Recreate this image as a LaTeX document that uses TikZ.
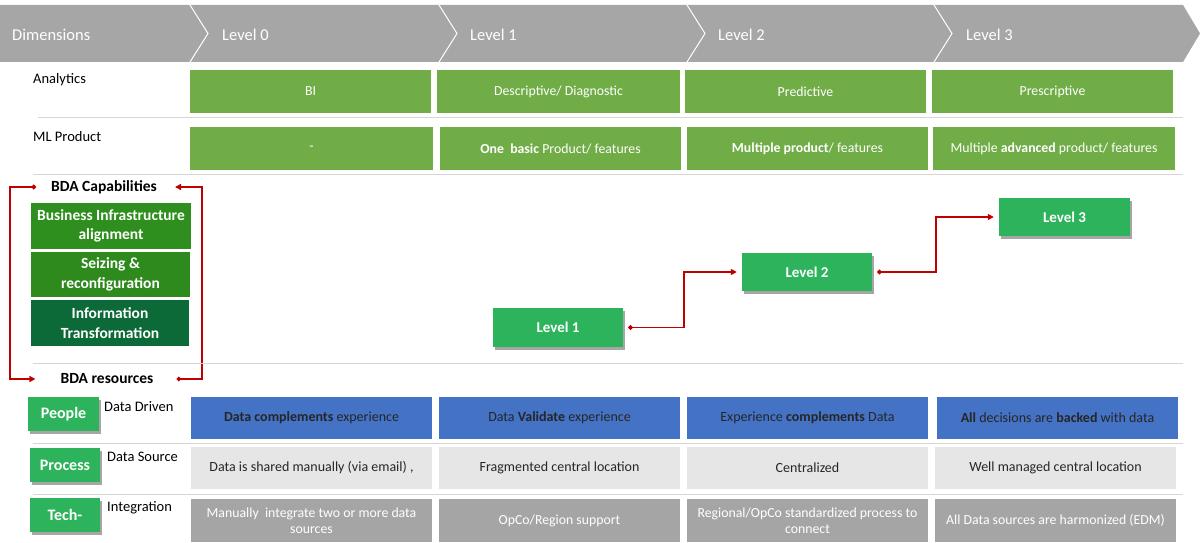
\documentclass[tikz,border=0pt]{standalone}
\usepackage{fontspec}
\setmainfont{Carlito}
\usetikzlibrary{arrows.meta,shadows}

\definecolor{bandgrey}{HTML}{A6A6A6}
\definecolor{cellgreen}{HTML}{70AD47}
\definecolor{capgreenA}{HTML}{2F8F1E}
\definecolor{capgreenB}{HTML}{2E8A1D}
\definecolor{capgreenC}{HTML}{0B6A37}
\definecolor{stepgreen}{HTML}{2DB35B}
\definecolor{cellblue}{HTML}{4472C4}
\definecolor{paleGrey}{HTML}{E7E6E6}
\definecolor{midGrey}{HTML}{A5A5A5}
\definecolor{ruleGrey}{HTML}{D6D6D6}
\definecolor{linkRed}{HTML}{C00000}
\definecolor{inkDark}{HTML}{262626}

% cell given by its corners: name, style, x1, y1, x2, y2, text
\newcommand{\gridcell}[7]{%
  \node[#2, minimum width={#5-#3}, minimum height={#6-#4}] (#1)
    at ({(#3+#5)/2},{(#4+#6)/2}) {#7};}

\tikzset{
  hdrtext/.style={anchor=west, inner sep=0pt, text=white, font=\fontsize{16.5}{19}\selectfont},
  rowlabel/.style={anchor=west, inner sep=0pt, text=black, font=\fontsize{14.5}{17}\selectfont},
  greencell/.style={fill=cellgreen, inner sep=0pt, text=white, font=\fontsize{13.8}{16}\selectfont},
  bluecell/.style={fill=cellblue, inner sep=0pt, text=inkDark, font=\fontsize{14}{16}\selectfont},
  palecell/.style={fill=paleGrey, inner sep=0pt, text=inkDark, font=\fontsize{14}{16}\selectfont},
  greycell/.style={fill=midGrey, inner sep=0pt, align=center, text=white, font=\fontsize{13.8}{16}\selectfont},
  capbox/.style={inner sep=0pt, align=center, text=white, font=\bfseries\fontsize{15.5}{19.5}\selectfont},
  levelbox/.style={fill=stepgreen, inner sep=0pt, text=white, font=\bfseries\fontsize{15}{18}\selectfont,
    drop shadow={shadow xshift=2pt, shadow yshift=-3pt, opacity=0.35, fill=black}},
  resbox/.style={fill=stepgreen, inner sep=0pt, text=white, font=\bfseries\fontsize{16}{19}\selectfont,
    drop shadow={shadow xshift=2pt, shadow yshift=-3pt, opacity=0.35, fill=black}},
  bdalabel/.style={inner sep=0pt, text=black, font=\bfseries\fontsize{15.5}{18}\selectfont},
  redlink/.style={draw=linkRed, line width=1.5pt,
    {Circle[length=4.5pt]}-{Triangle[length=6pt,width=6pt]}},
  rowrule/.style={draw=ruleGrey, line width=1pt}
}

\begin{document}
\begin{tikzpicture}[x=1pt,y=-1pt]
\useasboundingbox (0,0) rectangle (1202,543);

% header band with chevron separators
\fill[bandgrey] (0,5) -- (1183,5) -- (1200,33.5) -- (1183,62) -- (0,62) -- cycle;
\foreach \sx in {190,439,687,934}
  \draw[white, line width=1pt] (\sx,5) -- (\sx+18,33.5) -- (\sx,62);
\node[hdrtext] (hdim) at (12,35) {Dimensions};
\node[hdrtext] (hl0) at (222,35) {Level 0};
\node[hdrtext] (hl1) at (470,35) {Level 1};
\node[hdrtext] (hl2) at (718,35) {Level 2};
\node[hdrtext] (hl3) at (966,35) {Level 3};

% analytics row
\node[rowlabel] (lanalytics) at (33,80) {Analytics};
\gridcell{a0}{greencell}{190}{70}{431}{113}{BI}
\gridcell{a1}{greencell}{437}{70}{680}{113}{Descriptive/ Diagnostic}
\gridcell{a2}{greencell}{685}{70}{926}{113}{Predictive}
\gridcell{a3}{greencell}{932}{70}{1173}{113}{Prescriptive}
\draw[rowrule] (38,117) -- (1183,117);

% ML product row
\node[rowlabel] (lml) at (33,137) {ML Product};
\gridcell{m0}{greencell}{190}{127}{433}{170}{-}
\gridcell{m1}{greencell}{440}{127}{681}{170}{\textbf{One\ \ basic} Product/ features}
\gridcell{m2}{greencell}{687}{127}{928}{170}{\textbf{Multiple product}/ features}
\gridcell{m3}{greencell}{933}{127}{1175}{170}{Multiple \textbf{advanced} product/ features}
\draw[rowrule] (33,174) -- (1183,174);

% BDA capabilities
\node[bdalabel] (captxt) at (104,187) {BDA Capabilities};
\gridcell{cap1}{capbox, fill=capgreenA}{31}{203}{191}{249}{Business Infrastructure\\alignment}
\gridcell{cap2}{capbox, fill=capgreenB}{31}{252}{190}{297}{Seizing \&\\reconfiguration}
\gridcell{cap3}{capbox, fill=capgreenC}{31}{300}{189}{346}{Information\\Transformation}
\node[bdalabel] (restxt) at (107,379) {BDA resources};
\draw[redlink] ([xshift=-15pt]captxt.west) -| (10,283) |- ([xshift=-25pt]restxt.west);
\draw[redlink] ([xshift=23pt]restxt.east) -| (202,283) |- ([xshift=18pt]captxt.east);

% level steps
\gridcell{l1}{levelbox}{493}{308}{623}{347}{Level 1}
\gridcell{l2}{levelbox}{742}{253}{872}{291}{Level 2}
\gridcell{l3}{levelbox}{999}{198}{1130}{236}{Level 3}
\draw[redlink] ([xshift=5pt]l1.east) -- ++(56,0) |- ([xshift=-5pt]l2.west);
\draw[redlink] ([xshift=5pt]l2.east) -- ++(59,0) |- ([xshift=-5pt]l3.west);
\draw[rowrule] (33,363) -- (1183,363);

% people row
\gridcell{rpeople}{resbox}{28}{397}{99}{431}{People}
\node[rowlabel] (ldriven) at (104,407) {Data Driven};
\gridcell{b0}{bluecell}{191}{397}{432}{439}{\textbf{Data complements} experience}
\gridcell{b1}{bluecell}{439}{397}{680}{439}{Data \textbf{Validate} experience}
\gridcell{b2}{bluecell}{687}{397}{928}{439}{Experience \textbf{complements} Data}
\gridcell{b3}{bluecell}{937}{397}{1178}{439}{\textbf{All} decisions are \textbf{backed} with data}
\draw[rowrule] (33,443) -- (1183,443);

% process row
\gridcell{rprocess}{resbox}{30}{448}{100}{482}{Process}
\node[rowlabel] (lsource) at (107,457) {Data Source};
\gridcell{p0}{palecell}{191}{447}{432}{489}{Data is shared manually (via email) ,}
\gridcell{p1}{palecell}{439}{447}{680}{489}{Fragmented central location}
\gridcell{p2}{palecell}{687}{447}{928}{489}{Centralized}
\gridcell{p3}{palecell}{935}{447}{1176}{489}{Well managed central location}
\draw[rowrule] (33,494) -- (1183,494);

% technology row
\gridcell{rtech}{resbox}{30}{498}{100}{532}{Tech-}
\node[rowlabel] (lintegr) at (107,508) {Integration};
\gridcell{g0}{greycell}{191}{499}{432}{542}{Manually\ \ integrate two or more data\\sources}
\gridcell{g1}{greycell}{439}{499}{680}{542}{OpCo/Region support}
\gridcell{g2}{greycell}{687}{499}{928}{542}{Regional/OpCo standardized process to\\connect}
\gridcell{g3}{greycell}{935}{499}{1176}{542}{All Data sources are harmonized (EDM)}
\end{tikzpicture}
\end{document}
